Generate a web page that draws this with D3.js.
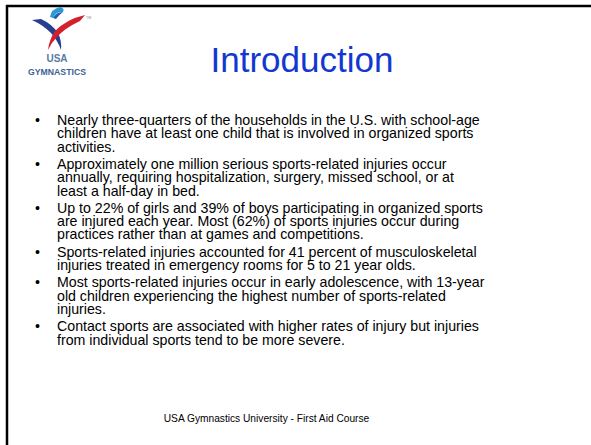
<!DOCTYPE html>
<html>
<head>
<meta charset="utf-8">
<script src="https://cdn.jsdelivr.net/npm/d3@7/dist/d3.min.js"></script>
<style>
  html, body { margin: 0; padding: 0; background: #fff; }
  svg { display: block; }
  text { font-family: "Liberation Sans", Arial, sans-serif; }
</style>
</head>
<body>
<div id="chart"></div>
<script>
// ---- Content ----
const titleText = "Introduction";
const footerText = "USA Gymnastics University - First Aid Course";
const logoWords = ["USA", "GYMNASTICS"];
const bulletLines = [
  ["Nearly three-quarters of the households in the U.S. with school-age",
   "children have at least one child that is involved in organized sports",
   "activities."],
  ["Approximately one million serious sports-related injuries occur",
   "annually, requiring hospitalization, surgery, missed school, or at",
   "least a half-day in bed."],
  ["Up to 22% of girls and 39% of boys participating in organized sports",
   "are injured each year. Most (62%) of sports injuries occur during",
   "practices rather than at games and competitions."],
  ["Sports-related injuries accounted for 41 percent of musculoskeletal",
   "injuries treated in emergency rooms for 5 to 21 year olds."],
  ["Most sports-related injuries occur in early adolescence, with 13-year",
   "old children experiencing the highest number of sports-related",
   "injuries."],
  ["Contact sports are associated with higher rates of injury but injuries",
   "from individual sports tend to be more severe."]
];

const W = 591, H = 445;
const svg = d3.select("#chart").append("svg").attr("width", W).attr("height", H);
svg.append("rect").attr("width", W).attr("height", H).attr("fill", "#fff");

// frame lines (top and left)
svg.append("line").attr("x1", 6).attr("x2", W).attr("y1", 6).attr("y2", 6)
  .attr("stroke", "#000").attr("stroke-width", 2.5);
svg.append("line").attr("x1", 7).attr("x2", 7).attr("y1", 5).attr("y2", H)
  .attr("stroke", "#000").attr("stroke-width", 2.5);

// ---- Logo ----
const logo = svg.append("g");
// head
logo.append("path").attr("d", "M50,17 Q51,9 60,7 Q65,8 63,12 Q56,11 53,18 Z").attr("fill", "#2a9ad6");
logo.append("path").attr("d", "M53,18 Q56,12 63,12 Q60,14 56,19 Z").attr("fill", "#1f5fb0");
// blue arm + leg (upper left to lower right)
logo.append("path").attr("d", "M32,20 L41,19 Q52,24 58,33 Q62,41 61,50 Q58,41 51,33 Q43,25 32,20 Z").attr("fill", "#243f8f");
// red arm + leg (upper right to lower left)
logo.append("path").attr("d", "M85,15 L80,21 Q65,28 57,37 Q51,43 48,50 Q49,40 55,31 Q67,19 85,15 Z").attr("fill", "#d3202f");
logo.append("text").attr("x", 86).attr("y", 19).attr("font-size", 3.5).attr("fill", "#888").text("TM");
logo.selectAll("text.word").data(logoWords).join("text")
  .attr("class", "word")
  .attr("x", 57)
  .attr("y", (d, i) => i === 0 ? 62 : 75)
  .attr("text-anchor", "middle")
  .attr("font-weight", "bold")
  .attr("font-size", (d, i) => i === 0 ? 10 : 8.7)
  .attr("fill", (d, i) => i === 0 ? "#5a7aa3" : "#3d5f94")
  .text(d => d);

// ---- Title ----
svg.append("text")
  .attr("x", 302).attr("y", 72)
  .attr("text-anchor", "middle")
  .attr("font-size", 35)
  .attr("fill", "#1238d0")
  .text(titleText);

// ---- Bullets ----
const lineStep = 13.3, bulletGap = 4, firstBase = 125;
const rows = [];
let idx = 0;
bulletLines.forEach((lines, b) => {
  lines.forEach((t, j) => { rows.push({ text: t, bullet: b, first: j === 0, k: idx++ }); });
});
const y = d3.scaleLinear().domain([0, 1]).range([0, lineStep]);
const yPos = r => firstBase + y(r.k) + r.bullet * bulletGap;

const body = svg.append("g").attr("font-size", 14.2).attr("fill", "#000");
body.selectAll("text.line").data(rows).join("text")
  .attr("class", "line")
  .attr("x", 57)
  .attr("y", yPos)
  .text(d => d.text);
body.selectAll("text.bul").data(rows.filter(r => r.first)).join("text")
  .attr("class", "bul")
  .attr("x", 35)
  .attr("y", yPos)
  .text("\u2022");

// ---- Footer ----
svg.append("text")
  .attr("x", 266.5).attr("y", 422)
  .attr("text-anchor", "middle")
  .attr("font-size", 10.2)
  .attr("fill", "#000")
  .text(footerText);
</script>
</body>
</html>
